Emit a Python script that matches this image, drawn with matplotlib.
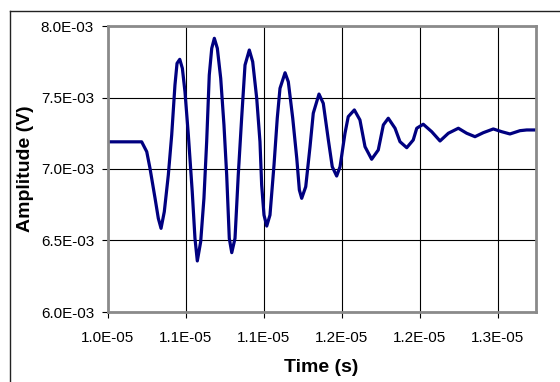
import matplotlib.pyplot as plt
from matplotlib.lines import Line2D
from matplotlib.ticker import FixedLocator, FuncFormatter

# time in microseconds, amplitude in millivolts
time_us = [10.000, 10.259, 10.298, 10.323, 10.362, 10.387, 10.408, 10.433, 10.464, 10.490,
           10.515, 10.531, 10.552, 10.572, 10.592, 10.618, 10.648, 10.669, 10.687, 10.713,
           10.738, 10.759, 10.779, 10.798, 10.818, 10.841, 10.867, 10.892, 10.913, 10.933,
           10.952, 10.977, 11.002, 11.028, 11.054, 11.087, 11.113, 11.144, 11.169, 11.182,
           11.200, 11.221, 11.246, 11.277, 11.302, 11.323, 11.362, 11.387, 11.421, 11.452,
           11.472, 11.490, 11.521, 11.554, 11.579, 11.623, 11.656, 11.695, 11.725, 11.759,
           11.785, 11.823, 11.848, 11.895, 11.938, 11.977, 12.028, 12.079, 12.118, 12.156,
           12.208, 12.246, 12.298, 12.348, 12.375, 12.425, 12.490, 12.554, 12.618, 12.695,
           12.759, 12.823, 12.887, 12.964, 13.028, 13.092, 13.169, 13.221, 13.290]
amp_mv = [7.190, 7.190, 7.121, 7.005, 6.795, 6.655, 6.585, 6.701, 6.958, 7.238,
          7.587, 7.739, 7.767, 7.704, 7.541, 7.238, 6.841, 6.515, 6.357, 6.492,
          6.795, 7.191, 7.657, 7.844, 7.914, 7.844, 7.634, 7.308, 6.958, 6.515,
          6.415, 6.515, 6.958, 7.355, 7.727, 7.832, 7.750, 7.494, 7.191, 6.888,
          6.678, 6.601, 6.678, 7.028, 7.355, 7.564, 7.673, 7.610, 7.355, 7.075,
          6.853, 6.795, 6.876, 7.156, 7.390, 7.524, 7.459, 7.203, 7.016, 6.951,
          7.016, 7.250, 7.366, 7.413, 7.343, 7.156, 7.068, 7.133, 7.308, 7.355,
          7.285, 7.191, 7.149, 7.203, 7.285, 7.313, 7.261, 7.196, 7.250, 7.285,
          7.250, 7.226, 7.254, 7.280, 7.261, 7.245, 7.268, 7.273, 7.273]

x_ticks_us = [10.0, 10.6, 11.2, 11.8, 12.4, 13.0]
y_ticks_mv = [6.0, 6.5, 7.0, 7.5, 8.0]

plt.rcParams['font.family'] = ['Liberation Sans', 'DejaVu Sans']

t = [v * 1e-6 for v in time_us]
a = [v * 1e-3 for v in amp_mv]

fig = plt.figure(figsize=(5.6, 3.82), dpi=100)
ax = fig.add_axes([108 / 560, 1 - 312 / 382, (535.7 - 108) / 560, (312 - 26) / 382])

ax.plot(t, a, color='#000080', linewidth=2.3, solid_joinstyle='round')

ax.set_xlim(1.0e-5, 13.29e-6)
ax.set_ylim(6.0e-3, 8.0e-3)
ax.xaxis.set_major_locator(FixedLocator([v * 1e-6 for v in x_ticks_us]))
ax.yaxis.set_major_locator(FixedLocator([v * 1e-3 for v in y_ticks_mv]))
fmt = FuncFormatter(lambda v, pos: f"{v:.1E}")
ax.xaxis.set_major_formatter(fmt)
ax.yaxis.set_major_formatter(fmt)

ax.grid(True, color='black', linewidth=0.8)
ax.set_axisbelow(True)
for side in ['left', 'bottom', 'top', 'right']:
    ax.spines[side].set_color('#8a8a8a')
    ax.spines[side].set_linewidth(2.0)

ax.tick_params(axis='both', direction='out', length=4, width=0.8, color='black',
               labelsize=11, pad=6)
ax.tick_params(axis='x', pad=10)

fig.text(321 / 560, 1 - 367 / 382, 'Time (s)', ha='center', va='center',
         fontsize=14, fontweight='bold')
fig.text(26 / 560, 1 - 169 / 382, 'Amplitude (V)', ha='center', va='center',
         rotation=90, fontsize=14, fontweight='bold')

# outer chart frame (only left and top edges are visible)
fig.add_artist(Line2D([10 / 560, 10 / 560], [0, 1 - 10.5 / 382], color='#222222', linewidth=1.0))
fig.add_artist(Line2D([10 / 560, 1], [1 - 10.5 / 382, 1 - 10.5 / 382], color='#222222', linewidth=1.0))

fig.savefig('out.png', dpi=100)
